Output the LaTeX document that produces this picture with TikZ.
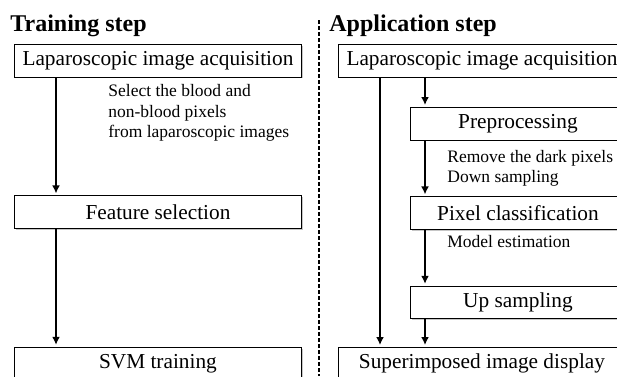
\documentclass[tikz,border=0pt]{standalone}
\usepackage{fontspec}
\setmainfont{Liberation Serif}
\usetikzlibrary{positioning,arrows.meta,shadows}

\begin{document}
\begin{tikzpicture}[auto, x=1pt, y=1pt, node distance=56pt, thick,
  stepbox/.style={draw, line width=0.9pt, fill=white, inner sep=0pt, minimum height=32.5pt, font=\fontsize{21.3}{25}\selectfont, drop shadow={shadow xshift=1.5pt, shadow yshift=-1.5pt, opacity=0.45}},
  widebox/.style={stepbox, minimum width=287pt},
  narrowbox/.style={stepbox, minimum width=215pt},
  note/.style={align=left, inner sep=0pt, font=\fontsize{17.5}{20.5}\selectfont},
  heading/.style={inner sep=0pt, font=\bfseries\fontsize{24}{28}\selectfont},
  flow/.style={-{Latex[length=8pt,width=8pt]}, line width=2pt, shorten >=2pt}]
\clip (0,0) rectangle (617,-376);
% headings and divider
\node[heading, anchor=base west] (trainTitle) at (10,-31) {Training step};
\node[heading, anchor=base west] (appTitle) at (329,-31) {Application step};
\coordinate (divTop) at (319,-20);
\coordinate (divBot) at (319,-376);
\draw[dash pattern=on 4pt off 2pt, line width=1.1pt] (divTop) -- (divBot);
% training step
\node[widebox, anchor=north west] (trainAcq) at (14,-44) {Laparoscopic image acquisition};
\node[widebox] (feat) [below=118pt of trainAcq] {Feature selection};
\node[widebox] (svm) [below=118pt of feat] {SVM training};
\node[note, anchor=north west] (selNote) at (108,-84) {Select the blood and\\non-blood pixels\\from laparoscopic images};
% application step
\node[widebox, anchor=north west] (appAcq) at (338,-44) {Laparoscopic image acquisition};
\node[narrowbox, anchor=north west] (prep) at (410,-107) {Preprocessing};
\node[narrowbox] (pixCls) [below=of prep] {Pixel classification};
\node[narrowbox] (upSamp) [below=of pixCls] {Up sampling};
\node[widebox, anchor=north west] (superImp) at (338,-347) {Superimposed image display};
\node[note, anchor=north west] (prepNote) at (447,-149.5) {Remove the dark pixels\\Down sampling};
\node[note, anchor=north west] (clsNote) at (447,-235) {Model estimation};
\path
([xshift=42pt]trainAcq.south west) edge[flow] ([xshift=42pt]feat.north west)
([xshift=42pt]feat.south west) edge[flow] ([xshift=42pt]svm.north west)
([xshift=42pt]appAcq.south west) edge[flow] ([xshift=42pt]superImp.north west)
([xshift=87pt]appAcq.south west) edge[flow] ([xshift=15pt]prep.north west)
([xshift=15pt]prep.south west) edge[flow] ([xshift=15pt]pixCls.north west)
([xshift=15pt]pixCls.south west) edge[flow] ([xshift=15pt]upSamp.north west)
([xshift=15pt]upSamp.south west) edge[flow] ([xshift=87pt]superImp.north west);
\end{tikzpicture}
\end{document}
